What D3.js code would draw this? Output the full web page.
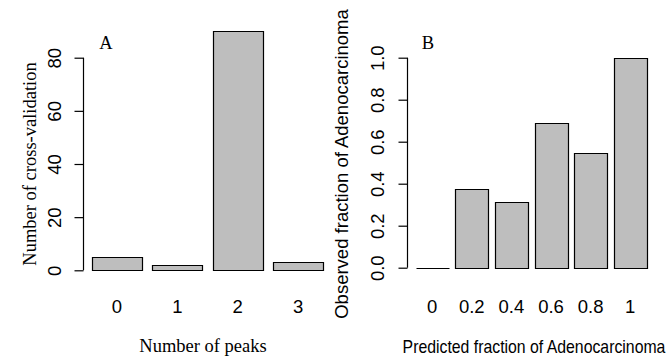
<!DOCTYPE html>
<html>
<head>
<meta charset="utf-8">
<title>peaks / adenocarcinoma</title>
<style>
  body { margin: 0; background: #fff; }
  svg { display: block; }
</style>
</head>
<body>
<svg width="671" height="358"></svg>
<script src="https://cdn.jsdelivr.net/npm/d3@7"></script>
<script>
// panel A
peakCats = ["0", "1", "2", "3"]
peakCounts = [5, 2, 90, 3]
peakTicks = [0, 20, 40, 60, 80]

// panel B
fracCats = ["0", "0.2", "0.4", "0.6", "0.8", "1"]
fracObserved = [0, 0.375, 0.3125, 0.6875, 0.545, 1]
fracTicks = [0, 0.2, 0.4, 0.6, 0.8, 1.0]

barFill = "#bebebe"
sans = "'Liberation Sans', Arial, sans-serif"
serif = "'Liberation Serif', 'Times New Roman', serif"

const svg = d3.select("svg")

// draws one R-style barplot panel
function panel(opt) {
  const x = d3.scaleBand()
      .domain(opt.cats)
      .range(opt.xRange)
      .paddingInner(0.2 / 1.2)
      .paddingOuter(0)
  const y = d3.scaleLinear()
      .domain(opt.yDomain)
      .range(opt.yRange)

  const g = svg.append("g")

  // bars as paths so a zero bar still shows as a line
  g.append("g")
    .selectAll("path")
    .data(opt.values)
    .join("path")
      .attr("d", (d, i) => {
        const x0 = Math.round(x(opt.cats[i])) + 0.5
        const x1 = Math.round(x(opt.cats[i]) + x.bandwidth()) + 0.5
        const y0 = Math.round(y(0)) + 0.5
        const y1 = Math.round(y(d)) + 0.5
        return `M${x0},${y0}V${y1}H${x1}V${y0}Z`
      })
      .attr("fill", barFill)
      .attr("stroke", "#000")
      .attr("stroke-width", 1.2)

  // y axis, R style: line spans first to last tick
  const ax = Math.round(opt.axisX) + 0.5
  const yAxis = d3.axisLeft(y)
      .tickValues(opt.ticks)
      .tickSize(9)
      .tickPadding(0)
      .tickFormat(opt.fmt)
  const ag = g.append("g")
      .attr("transform", `translate(${ax},0)`)
      .call(yAxis)
  ag.select(".domain").remove()
  ag.selectAll(".tick line").attr("stroke", "#000").attr("stroke-width", 1.2)
  ag.append("line")
      .attr("y1", y(opt.ticks[0]))
      .attr("y2", y(opt.ticks[opt.ticks.length - 1]))
      .attr("stroke", "#000")
      .attr("stroke-width", 1.2)
  ag.selectAll(".tick text")
      .attr("x", null).attr("dy", null)
      .attr("transform", `translate(${-opt.tickLabelGap},0) rotate(-90)`)
      .attr("text-anchor", "middle")
      .attr("font-family", sans)
      .attr("font-size", 18.5)
      .attr("fill", "#000")

  // category labels under the bars
  g.append("g")
    .selectAll("text")
    .data(opt.cats)
    .join("text")
      .attr("x", d => x(d) + x.bandwidth() / 2)
      .attr("y", 313)
      .attr("text-anchor", "middle")
      .attr("font-family", sans)
      .attr("font-size", 18.5)
      .text(d => d)

  // x title (the B one is a little squeezed sideways in the source)
  g.append("text")
      .attr("transform", `translate(${opt.xTitleX},${opt.xTitleY}) scale(${opt.xTitleSx || 1},1)`)
      .attr("text-anchor", "middle")
      .attr("font-family", opt.titleFont)
      .attr("font-size", 18.5)
      .text(opt.xTitle)

  // y title
  g.append("text")
      .attr("transform", `translate(${opt.yTitleX},164) rotate(-90)`)
      .attr("text-anchor", "middle")
      .attr("font-family", opt.titleFont)
      .attr("font-size", 18.5)
      .text(opt.yTitle)

  // panel letter
  g.append("text")
      .attr("x", opt.letterX)
      .attr("y", 49.3)
      .attr("font-family", serif)
      .attr("font-size", 18.5)
      .text(opt.letter)
}

panel({
  cats: peakCats, values: peakCounts, ticks: peakTicks,
  xRange: [91.7, 323.3], yDomain: [0, 80], yRange: [270.3, 57.7],
  axisX: 82.7, tickLabelGap: 22.5, fmt: d3.format("d"),
  xTitle: "Number of peaks", xTitleX: 203, xTitleY: 351.5,
  yTitle: "Number of cross-validation", yTitleX: 35.5,
  titleFont: serif, letter: "A", letterX: 99.3
})

panel({
  cats: fracCats, values: fracObserved, ticks: fracTicks,
  xRange: [415.7, 646.7], yDomain: [0, 1], yRange: [267.7, 57.7],
  axisX: 407.3, tickLabelGap: 24, fmt: d3.format(".1f"),
  xTitle: "Predicted fraction of Adenocarcinoma", xTitleX: 534, xTitleY: 352.5,
  xTitleSx: 0.855,
  yTitle: "Observed fraction of Adenocarcinoma", yTitleX: 348,
  titleFont: sans, letter: "B", letterX: 421.7
})
</script>
</body>
</html>
